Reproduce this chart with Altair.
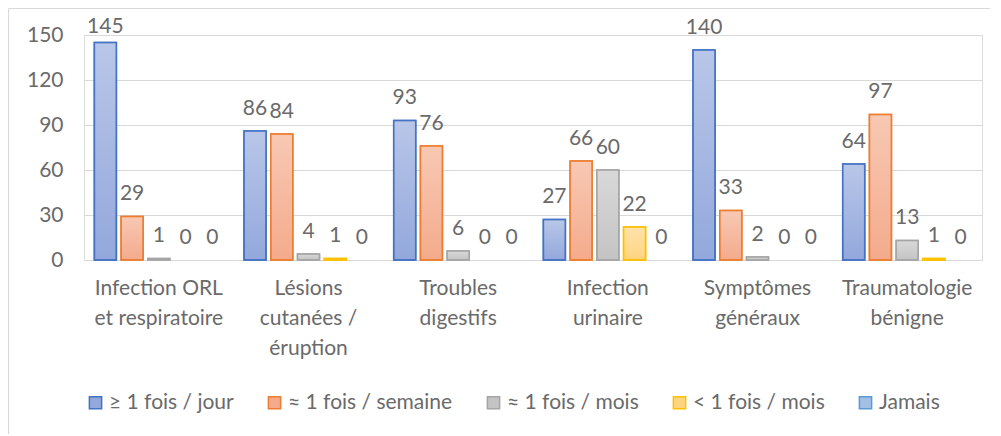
import altair as alt
import pandas as pd

categories = [
    "Infection ORL\net respiratoire",
    "Lésions\ncutanées /\néruption",
    "Troubles\ndigestifs",
    "Infection\nurinaire",
    "Symptômes\ngénéraux",
    "Traumatologie\nbénigne",
]
series = ["≥ 1 fois / jour", "≈ 1 fois / semaine", "≈ 1 fois / mois", "< 1 fois / mois", "Jamais"]
par_jour = [145, 86, 93, 27, 140, 64]
par_semaine = [29, 84, 76, 66, 33, 97]
par_mois = [1, 4, 6, 60, 2, 13]
moins_mois = [0, 1, 0, 22, 0, 1]
jamais = [0, 0, 0, 0, 0, 0]

fills = ["#93a8dc", "#f4ab8c", "#c4c4c4", "#ffd480", "#a3bfe6"]
strokes = ["#4472c4", "#ed7d31", "#a5a5a5", "#ffc000", "#5b9bd5"]

rows = []
for s, vals in zip(series, [par_jour, par_semaine, par_mois, moins_mois, jamais]):
    for c, v in zip(categories, vals):
        rows.append({"cat": c, "serie": s, "value": v})
df = pd.DataFrame(rows)

FONT = "Lato"
GRAY = "#6a6a6a"
FS = 21

x = alt.X("cat:N", sort=categories, scale=alt.Scale(paddingInner=0.107, paddingOuter=0.0535),
          axis=alt.Axis(title=None, labelExpr="split(datum.label, '\\n')", labelAngle=0,
                        domain=False, ticks=False, labelPadding=17, labelBaseline="top",
                        labelLineHeight=30, labelFontSize=FS, labelColor=GRAY, labelFont=FONT))
xoff = alt.XOffset("serie:N", sort=series, scale=alt.Scale(paddingInner=0.176, paddingOuter=0.088))
y = alt.Y("value:Q", scale=alt.Scale(domain=[0, 150], nice=False),
          axis=alt.Axis(title=None, values=[0, 30, 60, 90, 120, 150], domain=False, ticks=False,
                        labelPadding=21, labelFontSize=FS, labelColor=GRAY, labelFont=FONT,
                        gridColor="#d9d9d9", gridWidth=1.2))

fill_enc = alt.Fill("serie:N", sort=series, scale=alt.Scale(domain=series, range=fills),
                    legend=alt.Legend(title=None, orient="none", direction="horizontal",
                                      legendX=1, legendY=357, symbolType="square", symbolSize=150,
                                      symbolStrokeWidth=1.5, labelFontSize=FS, labelColor=GRAY,
                                      labelFont=FONT, columnPadding=30, labelOffset=3, columns=5,
                                      labelLimit=400))
stroke_enc = alt.Stroke("serie:N", sort=series, scale=alt.Scale(domain=series, range=strokes),
                        legend=None)

base = alt.Chart(df)

bars = base.transform_filter("datum.value > 0").mark_bar(strokeWidth=1.5).encode(
    x=x, xOffset=xoff, y=y, fill=fill_enc, stroke=stroke_enc)

shine = base.transform_filter("datum.value > 0").mark_bar(
    color=alt.Gradient(gradient="linear", x1=0, y1=0, x2=0, y2=1,
                       stops=[alt.GradientStop(color="rgba(255,255,255,0.35)", offset=0),
                              alt.GradientStop(color="rgba(255,255,255,0)", offset=1)])
).encode(x=x, xOffset=xoff, y=y)

outline = base.transform_filter("datum.value > 0").mark_bar(strokeWidth=1.5, fillOpacity=0).encode(
    x=x, xOffset=xoff, y=y, stroke=stroke_enc)

labels = base.transform_calculate(ly="min(datum.value + 10.7, 151.3)").mark_text(
    baseline="alphabetic", fontSize=FS, font=FONT, color=GRAY).encode(
    x=x, xOffset=xoff, y=alt.Y("ly:Q"), text="value:Q")

frame = alt.Data(values=[{"a": 1}])
top_border = alt.Chart(frame).mark_rule(color="#d9d9d9", strokeWidth=1.2).encode(
    x=alt.value(-75.5), x2=alt.value(960), y=alt.value(-26.5))
left_border = alt.Chart(frame).mark_rule(color="#d9d9d9", strokeWidth=1.2).encode(
    x=alt.value(-75.5), y=alt.value(-26.5), y2=alt.value(440))

chart = alt.layer(top_border, left_border, bars, shine, outline, labels).properties(
    width=898, height=225,
    padding={"left": 76, "top": 27, "right": 8, "bottom": 174},
    autosize=alt.AutoSizeParams(type="none"),
).configure_view(stroke=None).configure(font=FONT)

chart.save("out.html", embed_options={"renderer": "svg", "actions": False})
